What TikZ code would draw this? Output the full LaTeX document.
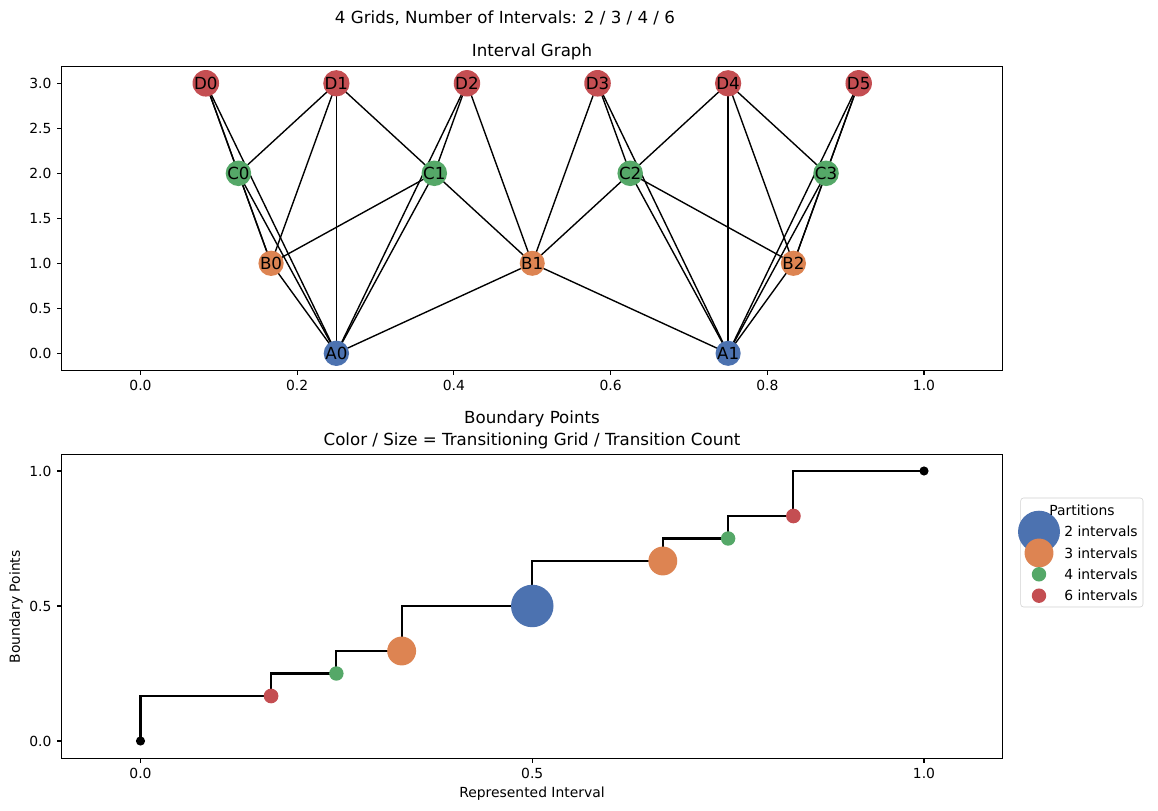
\documentclass[tikz,border=0pt]{standalone}
\usepackage{fontspec}
\setmainfont{DejaVu Sans}
\usetikzlibrary{backgrounds}

\definecolor{deepblue}{HTML}{4C72B0}
\definecolor{deeporange}{HTML}{DD8452}
\definecolor{deepgreen}{HTML}{55A868}
\definecolor{deepred}{HTML}{C44E52}

\tikzset{
  vertex/.style={circle, minimum size=17.3pt, inner sep=0pt, font=\fontsize{12}{14}\selectfont},
  edge/.style={line width=1pt},
  frame/.style={line width=0.8pt},
  ticklabel/.style={inner sep=0pt, font=\fontsize{10}{12}\selectfont},
  bigtitle/.style={inner sep=0pt, font=\fontsize{12}{15.8}\selectfont, align=center},
  stepline/.style={line width=1.5pt},
}

\begin{document}
\begin{tikzpicture}[x=0.72pt, y=0.72pt]

\useasboundingbox (0,0) rectangle (1158,811);

% Titres
\node[bigtitle] (suptitle) at (505,793) {4 Grids, Number of Intervals: 2 / 3 / 4 / 6};
\node[bigtitle] (graphtitle) at (532,759) {Interval Graph};
\node[bigtitle] (plottitle) at (532,381) {Boundary Points\\Color / Size = Transitioning Grid / Transition Count};

% Interval Graph
\begin{scope}[xshift=101.16pt, yshift=329.54pt, x=564.12pt, y=64.8pt]

\draw[frame] (-0.101,-0.19) rectangle (1.1,3.19);

\foreach \t [count=\i] in {0.0,0.2,0.4,0.6,0.8,1.0} {
  \draw[frame] (\t,-0.19) -- ++(0,-3.5pt);
  \node[ticklabel, anchor=north] (gx\i) at ([yshift=-7pt]\t,-0.19) {\t};
}
\foreach \t [count=\i] in {0.0,0.5,1.0,1.5,2.0,2.5,3.0} {
  \draw[frame] (-0.101,\t) -- ++(-3.5pt,0);
  \node[ticklabel, anchor=east] (gy\i) at ([xshift=-7pt]-0.101,\t) {\t};
}

% Sommets
\foreach \g/\n/\lev/\col in {A/2/0/deepblue, B/3/1/deeporange, C/4/2/deepgreen, D/6/3/deepred} {
  \pgfmathtruncatemacro{\last}{\n-1}
  \foreach \i in {0,...,\last}
    \node[vertex, fill=\col] (\g\i) at ({(\i+0.5)/\n},\lev) {\g\i};
}

% Aretes
\begin{scope}[on background layer]
\foreach \a/\b in {A0/B0, A0/B1, A0/C0, A0/C1, A0/D0, A0/D1, A0/D2,
                   A1/B1, A1/B2, A1/C2, A1/C3, A1/D3, A1/D4, A1/D5,
                   B0/C0, B0/C1, B0/D0, B0/D1,
                   B1/C1, B1/C2, B1/D2, B1/D3,
                   B2/C2, B2/C3, B2/D4, B2/D5,
                   C0/D0, C0/D1, C1/D1, C1/D2,
                   C2/D3, C2/D4, C3/D4, C3/D5}
  \draw[edge] (\a.center) -- (\b.center);
\end{scope}

\end{scope}

% Boundary Points
\begin{scope}[xshift=101.16pt, yshift=50.4pt, x=564.12pt, y=194.4pt]

\draw[frame] (-0.101,-0.064) rectangle (1.1,1.062);

\foreach \t [count=\i] in {0.0,0.5,1.0} {
  \draw[frame] (\t,-0.064) -- ++(0,-3.5pt);
  \node[ticklabel, anchor=north] (bx\i) at ([yshift=-7pt]\t,-0.064) {\t};
  \draw[frame] (-0.101,\t) -- ++(-3.5pt,0);
  \node[ticklabel, anchor=east] (by\i) at ([xshift=-7pt]-0.101,\t) {\t};
}

% Escalier
\draw[stepline] (0,0) |- (1/6,1/6) |- (1/4,1/4) |- (1/3,1/3) |- (1/2,1/2)
  |- (2/3,2/3) |- (3/4,3/4) |- (5/6,5/6) |- (1,1);

\fill (0,0) circle[radius=3.3pt];
\fill (1,1) circle[radius=3.3pt];

\fill[deepred] (1/6,1/6) circle[radius=5.3pt];
\fill[deepgreen] (1/4,1/4) circle[radius=5.2pt];
\fill[deeporange] (1/3,1/3) circle[radius=10.4pt];
\fill[deepblue] (1/2,1/2) circle[radius=15.3pt];
\fill[deeporange] (2/3,2/3) circle[radius=10.4pt];
\fill[deepgreen] (3/4,3/4) circle[radius=5.2pt];
\fill[deepred] (5/6,5/6) circle[radius=5.3pt];

\end{scope}

\node[ticklabel] (xlabel) at (532,17) {Represented Interval};
\node[ticklabel, rotate=90] (ylabel) at (16,204) {Boundary Points};

% Legende
\draw[black!18, fill=white, rounded corners=2pt] (1020.7,313) rectangle (1143,204);

\fill[deepblue] (1039,279.3) circle[radius=15.1pt];
\fill[deeporange] (1039,258) circle[radius=10.4pt];
\fill[deepgreen] (1039,236.7) circle[radius=5.2pt];
\fill[deepred] (1039,215.3) circle[radius=5.2pt];

\node[ticklabel] (legtitle) at (1082,301) {Partitions};
\node[ticklabel, anchor=west] (leg2) at (1064,279.3) {2 intervals};
\node[ticklabel, anchor=west] (leg3) at (1064,258) {3 intervals};
\node[ticklabel, anchor=west] (leg4) at (1064,236.7) {4 intervals};
\node[ticklabel, anchor=west] (leg6) at (1064,215.3) {6 intervals};

\end{tikzpicture}
\end{document}
